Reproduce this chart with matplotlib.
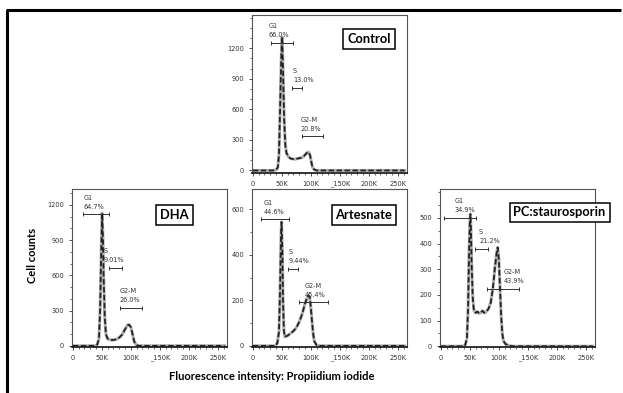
import matplotlib
matplotlib.use("Agg")
import matplotlib.pyplot as plt
from matplotlib.lines import Line2D
from matplotlib.ticker import MultipleLocator, FixedLocator

plt.rcParams['font.family'] = ['DejaVu Sans']

# ---------------- data (x in thousands of fluorescence units, y = cell counts) ----------------
control_x = [0, 35, 40, 43, 45, 47, 49, 50.5, 52, 54, 56, 58, 62, 66, 72, 78, 84, 88, 92, 95, 97, 99, 101, 103, 106, 110, 262]
control_y = [0, 0, 5, 30, 150, 600, 1100, 1310, 1000, 500, 250, 170, 130, 115, 110, 118, 125, 140, 165, 180, 175, 140, 80, 30, 8, 0, 0]

dha_x = [0, 38, 42, 45, 47, 49, 50.5, 52, 53, 55, 57, 60, 65, 70, 75, 80, 85, 90, 94, 97, 100, 103, 106, 110, 115, 262]
dha_y = [0, 0, 10, 60, 300, 800, 1130, 900, 600, 250, 100, 60, 50, 50, 55, 70, 95, 140, 175, 180, 160, 100, 35, 5, 0, 0]

art_x = [0, 38, 42, 45, 47, 48.5, 49.5, 51, 52, 53.5, 55, 60, 65, 70, 75, 80, 85, 90, 94, 96, 98, 100, 102, 104, 106, 110, 115, 262]
art_y = [0, 0, 10, 60, 250, 480, 545, 400, 200, 70, 40, 45, 55, 65, 80, 105, 140, 185, 215, 222, 215, 170, 110, 55, 20, 3, 0, 0]

pc_x = [0, 38, 42, 45, 47, 48.5, 50, 51, 52, 53, 55, 57, 60, 63, 66, 69, 72, 75, 78, 82, 86, 90, 93, 96, 98, 100, 102, 104, 106, 108, 112, 118, 125, 262]
pc_y = [0, 0, 5, 30, 150, 350, 480, 515, 450, 330, 190, 140, 130, 135, 128, 132, 138, 130, 135, 145, 170, 230, 300, 360, 385, 340, 230, 120, 50, 20, 8, 2, 0, 0]

# gates: (name, percent, x_start, x_end, y, text_x)
control_gates = [("G1", "66.0%", 31, 69, 1250, 27), ("S", "13.0%", 67, 84, 806, 69), ("G2-M", "20.8%", 84, 121, 334, 82)]
dha_gates = [("G1", "64.7%", 18, 63, 1119, 18.5), ("S", "9.01%", 63, 84, 660, 53), ("G2-M", "26.0%", 81, 119, 326, 80.5)]
art_gates = [("G1", "44.6%", 14, 63, 556, 17.8), ("S", "9.44%", 61, 78, 340, 61), ("G2-M", "45.4%", 79, 130, 191, 89)]
pc_gates = [("G1", "34.9%", 6, 60, 499, 23), ("S", "21.2%", 59, 82, 379, 66), ("G2-M", "43.9%", 80, 135, 223, 109)]

x_ticks = [0, 50, 100, 150, 200, 250]
x_ticklabels = ["0", "50K", "100K", "_150K", "200K", "250K"]

panel_titles = ["Control", "DHA", "Artesnate", "PC:staurosporin"]

W, H = 623, 393
fig = plt.figure(figsize=(W / 100, H / 100), dpi=100)


def rect(l, r, t, b):
    return [l / W, 1 - b / H, (r - l) / W, (b - t) / H]


def make_panel(r, xs, ys, gates, ylim, yticks, yminor):
    ax = fig.add_axes(rect(*r))
    ax.plot(xs, ys, color='#b0b0b0', lw=2.2, solid_joinstyle='round', zorder=2)
    ax.plot(xs, ys, color='#222222', lw=1.3, ls=(0, (3, 1.4)), zorder=3)
    ax.set_xlim(-1.5, 266)
    ax.set_ylim(*ylim)
    ax.xaxis.set_major_locator(FixedLocator(x_ticks))
    ax.set_xticklabels(x_ticklabels)
    ax.xaxis.set_minor_locator(MultipleLocator(10))
    ax.yaxis.set_major_locator(FixedLocator(yticks))
    ax.yaxis.set_minor_locator(MultipleLocator(yminor))
    ax.tick_params(which='major', direction='out', length=2.5, width=0.6, pad=3,
                   labelsize=4.8, colors='#333333')
    ax.tick_params(which='minor', direction='out', length=1.3, width=0.5, colors='#333333')
    for s in ['top', 'right', 'left']:
        ax.spines[s].set_color('#555555')
        ax.spines[s].set_linewidth(0.8)
    ax.spines['bottom'].set_color('#111111')
    ax.spines['bottom'].set_linewidth(1.2)
    for name, pct, x1, x2, y, tx in gates:
        ax.plot([x1, x2], [y, y], color='#333333', lw=0.7, zorder=4)
        ax.plot([x1, x2], [y, y], ls='none', marker='|', ms=3.5, mew=0.7, color='#333333', zorder=4)
        ax.annotate(name + "\n" + pct, xy=(tx, y), xytext=(0, 3.5), textcoords='offset points',
                    ha='left', va='bottom', fontsize=4.7, color='#333333', linespacing=1.6)
    return ax


make_panel((252, 407, 15, 173), control_x, control_y, control_gates, (-25, 1525), [0, 300, 600, 900, 1200], 100)
make_panel((72, 227, 189, 347), dha_x, dha_y, dha_gates, (-10, 1335), [0, 300, 600, 900, 1200], 100)
make_panel((252, 407, 189, 347), art_x, art_y, art_gates, (-5, 690), [0, 200, 400, 600], 100)
make_panel((440, 595, 189, 347), pc_x, pc_y, pc_gates, (-3, 613), [0, 100, 200, 300, 400, 500], 50)

# panel title boxes
title_pos = [(369, 39), (174.5, 215), (364, 215), (559.5, 212.5)]
for t, (cx, cy) in zip(panel_titles, title_pos):
    fig.text(cx / W, 1 - cy / H, t, ha='center', va='center', fontsize=9.3, fontweight='bold',
             family=['Lato', 'DejaVu Sans'], color='black',
             bbox=dict(boxstyle='square,pad=0.3', fc='white', ec='black', lw=1.1))

# axis titles
fig.text(33 / W, 1 - 255 / H, "Cell counts", rotation=90, ha='center', va='center',
         fontsize=8, fontweight='bold', family=['Lato', 'DejaVu Sans'])
fig.text(272 / W, 1 - 376 / H, "Fluorescence intensity: Propiidium iodide", ha='center', va='center',
         fontsize=8, fontweight='bold', family=['Lato', 'DejaVu Sans'])

# outer frame (top and left)
fig.add_artist(Line2D([6 / W, 621 / W], [1 - 10 / H, 1 - 10 / H], transform=fig.transFigure,
                      color='black', lw=2.2, solid_capstyle='butt'))
fig.add_artist(Line2D([6.5 / W, 6.5 / W], [1 - 10 / H, 0], transform=fig.transFigure,
                      color='black', lw=2.2, solid_capstyle='butt'))

fig.savefig("out.png", dpi=100)
